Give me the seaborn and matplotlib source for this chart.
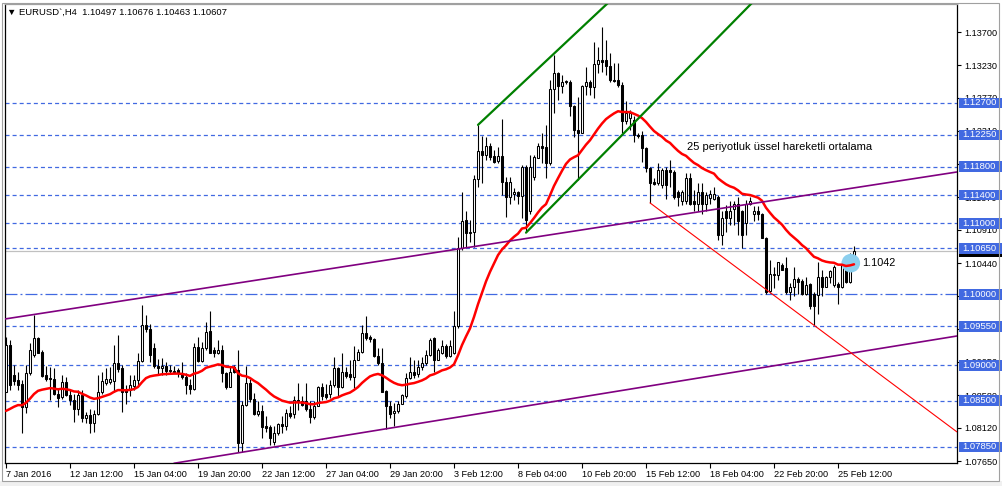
import matplotlib
matplotlib.use("Agg")
import matplotlib.pyplot as plt
from matplotlib.patches import Rectangle
import numpy as np
import pandas as pd
import seaborn as sns

# ---------------- data (EURUSD H4) ----------------
opens = [1.0863, 1.0928, 1.0886, 1.0879, 1.0873, 1.0841, 1.0889, 1.0914, 1.0938, 1.0919,
         1.0886, 1.0882, 1.0881, 1.0859, 1.0855, 1.0876, 1.0858, 1.0851, 1.0839, 1.0858,
         1.0825, 1.0830, 1.0819, 1.0831, 1.0863, 1.0875, 1.0877, 1.0878, 1.0903, 1.0896,
         1.0865, 1.0865, 1.0871, 1.0879, 1.0906, 1.0957, 1.0951, 1.0925, 1.0899, 1.0896,
         1.0899, 1.0893, 1.0892, 1.0893, 1.0889, 1.0883, 1.0872, 1.0866, 1.0926, 1.0906,
         1.0924, 1.0948, 1.0922, 1.0917, 1.0922, 1.0889, 1.0870, 1.0898, 1.0893, 1.0791,
         1.0844, 1.0875, 1.0852, 1.0831, 1.0836, 1.0814, 1.0813, 1.0792, 1.0804, 1.0817,
         1.0815, 1.0833, 1.0831, 1.0851, 1.0850, 1.0849, 1.0838, 1.0827, 1.0843, 1.0869,
         1.0860, 1.0860, 1.0872, 1.0896, 1.0870, 1.0891, 1.0888, 1.0883, 1.0908, 1.0919,
         1.0945, 1.0940, 1.0937, 1.0913, 1.0903, 1.0864, 1.0842, 1.0832, 1.0835, 1.0846,
         1.0856, 1.0882, 1.0890, 1.0887, 1.0898, 1.0903, 1.0915, 1.0938, 1.0908, 1.0918,
         1.0927, 1.0913, 1.0917, 1.0955, 1.1065, 1.1105, 1.1087, 1.1088, 1.1162, 1.1202,
         1.1197, 1.1209, 1.1195, 1.1188, 1.1195, 1.1159, 1.1138, 1.1141, 1.1145, 1.1139,
         1.1180, 1.1117, 1.1165, 1.1193, 1.1209, 1.1208, 1.1185, 1.1289, 1.1312, 1.1294,
         1.1299, 1.1299, 1.1265, 1.1232, 1.1228, 1.1294, 1.1300, 1.1293, 1.1325, 1.1331,
         1.1331, 1.1322, 1.1303, 1.1302, 1.1295, 1.1245, 1.1249, 1.1246, 1.1225, 1.1225,
         1.1206, 1.1178, 1.1158, 1.1157, 1.1154, 1.1176, 1.1175, 1.1173, 1.1145, 1.1131,
         1.1131, 1.1164, 1.1131, 1.1128, 1.1145, 1.1128, 1.1136, 1.1135, 1.1138, 1.1084,
         1.1117, 1.1107, 1.1121, 1.1127, 1.1117, 1.1101, 1.1128, 1.1114, 1.1117, 1.1113,
         1.1080, 1.1005, 1.1027, 1.1027, 1.1042, 1.1037, 1.1004, 1.1011, 1.1021, 1.1019,
         1.1001, 1.1015, 1.1000, 1.0999, 1.1025, 1.1011, 1.1025, 1.1013, 1.1015, 1.1010,
         1.1041, 1.1018, 1.10497]
highs = [1.0940, 1.0935, 1.0900, 1.0891, 1.0879, 1.0900, 1.0931, 1.0971, 1.0940, 1.0921,
         1.0899, 1.0898, 1.0896, 1.0867, 1.0886, 1.0883, 1.0865, 1.0860, 1.0865, 1.0865,
         1.0834, 1.0839, 1.0837, 1.0886, 1.0891, 1.0896, 1.0898, 1.0928, 1.0943, 1.0900,
         1.0872, 1.0886, 1.0886, 1.0917, 1.0985, 1.0971, 1.0958, 1.0931, 1.0909, 1.0910,
         1.0905, 1.0900, 1.0899, 1.0896, 1.0905, 1.0889, 1.0880, 1.0932, 1.0940, 1.0933,
         1.0961, 1.0977, 1.0926, 1.0936, 1.0928, 1.0891, 1.0898, 1.0900, 1.0922, 1.0849,
         1.0899, 1.0880, 1.0861, 1.0849, 1.0844, 1.0828, 1.0816, 1.0814, 1.0818, 1.0828,
         1.0838, 1.0842, 1.0857, 1.0875, 1.0857, 1.0875, 1.0849, 1.0849, 1.0871, 1.0875,
         1.0873, 1.0879, 1.0911, 1.0898, 1.0917, 1.0898, 1.0908, 1.0927, 1.0923, 1.0957,
         1.0969, 1.0943, 1.0938, 1.0924, 1.0925, 1.0865, 1.0849, 1.0847, 1.0849, 1.0860,
         1.0889, 1.0912, 1.0907, 1.0908, 1.0911, 1.0922, 1.0938, 1.0940, 1.0924, 1.0936,
         1.0930, 1.0936, 1.0977, 1.1081, 1.1145, 1.1118, 1.1105, 1.1168, 1.1239, 1.1223,
         1.1222, 1.1213, 1.1204, 1.1208, 1.1248, 1.1166, 1.1166, 1.1150, 1.1146, 1.1183,
         1.1183, 1.1197, 1.1197, 1.1214, 1.1228, 1.1239, 1.1302, 1.1338, 1.1314, 1.1309,
         1.1303, 1.1303, 1.1267, 1.1278, 1.1295, 1.1321, 1.1302, 1.1356, 1.1349, 1.1377,
         1.1359, 1.1340, 1.1326, 1.1326, 1.1300, 1.1272, 1.1260, 1.1251, 1.1227, 1.1230,
         1.1208, 1.1180, 1.1164, 1.1185, 1.1178, 1.1180, 1.1190, 1.1175, 1.1147, 1.1147,
         1.1171, 1.1171, 1.1147, 1.1157, 1.1157, 1.1145, 1.1147, 1.1151, 1.1140, 1.1117,
         1.1126, 1.1131, 1.1131, 1.1138, 1.1119, 1.1133, 1.1138, 1.1124, 1.1124, 1.1115,
         1.1081, 1.1049, 1.1039, 1.1046, 1.1044, 1.1052, 1.1016, 1.1039, 1.1025, 1.1021,
         1.1025, 1.1016, 1.1004, 1.1046, 1.1034, 1.1026, 1.1034, 1.1041, 1.1018, 1.1046,
         1.1049, 1.1058, 1.10676]
lows = [1.0863, 1.0865, 1.0872, 1.0865, 1.0804, 1.0832, 1.0886, 1.0912, 1.0917, 1.0884,
        1.0878, 1.0851, 1.0858, 1.0841, 1.0853, 1.0857, 1.0844, 1.0820, 1.0830, 1.0820,
        1.0818, 1.0805, 1.0806, 1.0830, 1.0860, 1.0872, 1.0874, 1.0863, 1.0891, 1.0834,
        1.0846, 1.0856, 1.0865, 1.0872, 1.0905, 1.0947, 1.0905, 1.0896, 1.0886, 1.0886,
        1.0886, 1.0889, 1.0889, 1.0883, 1.0881, 1.0859, 1.0860, 1.0865, 1.0905, 1.0905,
        1.0922, 1.0917, 1.0912, 1.0916, 1.0877, 1.0867, 1.0869, 1.0889, 1.0777, 1.0777,
        1.0842, 1.0848, 1.0830, 1.0828, 1.0797, 1.0806, 1.0788, 1.0788, 1.0802, 1.0804,
        1.0809, 1.0825, 1.0825, 1.0837, 1.0842, 1.0835, 1.0818, 1.0824, 1.0842, 1.0851,
        1.0852, 1.0854, 1.0870, 1.0856, 1.0868, 1.0882, 1.0879, 1.0868, 1.0907, 1.0917,
        1.0936, 1.0933, 1.0912, 1.0900, 1.0862, 1.0810, 1.0825, 1.0814, 1.0833, 1.0845,
        1.0854, 1.0880, 1.0882, 1.0884, 1.0894, 1.0900, 1.0913, 1.0891, 1.0907, 1.0916,
        1.0910, 1.0911, 1.0916, 1.0953, 1.1063, 1.1067, 1.1074, 1.1067, 1.1152, 1.1157,
        1.1190, 1.1190, 1.1185, 1.1185, 1.1140, 1.1109, 1.1128, 1.1133, 1.1128, 1.1107,
        1.1090, 1.1114, 1.1161, 1.1192, 1.1185, 1.1164, 1.1183, 1.1256, 1.1274, 1.1284,
        1.1296, 1.1251, 1.1222, 1.1161, 1.1227, 1.1281, 1.1281, 1.1277, 1.1312, 1.1314,
        1.1309, 1.1300, 1.1300, 1.1293, 1.1227, 1.1240, 1.1232, 1.1215, 1.1220, 1.1187,
        1.1173, 1.1129, 1.1154, 1.1154, 1.1150, 1.1135, 1.1152, 1.1135, 1.1124, 1.1126,
        1.1128, 1.1126, 1.1117, 1.1117, 1.1114, 1.1117, 1.1128, 1.1133, 1.1077, 1.1070,
        1.1088, 1.1098, 1.1098, 1.1084, 1.1066, 1.1084, 1.1126, 1.1103, 1.1105, 1.1079,
        1.1001, 1.1002, 1.1009, 1.1020, 1.1034, 1.1001, 1.0992, 1.0997, 1.1001, 1.0999,
        1.0999, 1.0979, 1.0957, 1.0973, 1.0997, 1.1010, 1.1016, 1.1011, 1.0987, 1.1009,
        1.1016, 1.1016, 1.10463]
closes = [1.0928, 1.0872, 1.0878, 1.0872, 1.0841, 1.0889, 1.0922, 1.0938, 1.0918, 1.0885,
          1.0880, 1.0881, 1.0859, 1.0854, 1.0877, 1.0858, 1.0851, 1.0839, 1.0858, 1.0825,
          1.0830, 1.0819, 1.0831, 1.0863, 1.0878, 1.0881, 1.0881, 1.0903, 1.0895, 1.0863,
          1.0863, 1.0872, 1.0879, 1.0906, 1.0957, 1.0951, 1.0914, 1.0899, 1.0896, 1.0899,
          1.0892, 1.0892, 1.0891, 1.0889, 1.0883, 1.0872, 1.0866, 1.0926, 1.0906, 1.0924,
          1.0947, 1.0918, 1.0917, 1.0922, 1.0889, 1.0870, 1.0891, 1.0891, 1.0791, 1.0844,
          1.0875, 1.0852, 1.0831, 1.0836, 1.0813, 1.0812, 1.0798, 1.0804, 1.0817, 1.0815,
          1.0832, 1.0829, 1.0851, 1.0849, 1.0844, 1.0838, 1.0827, 1.0843, 1.0869, 1.0856,
          1.0855, 1.0872, 1.0896, 1.0870, 1.0891, 1.0885, 1.0884, 1.0908, 1.0919, 1.0945,
          1.0938, 1.0937, 1.0913, 1.0903, 1.0863, 1.0842, 1.0831, 1.0836, 1.0846, 1.0858,
          1.0882, 1.0890, 1.0886, 1.0898, 1.0903, 1.0915, 1.0936, 1.0908, 1.0921, 1.0927,
          1.0913, 1.0927, 1.0955, 1.1065, 1.1103, 1.1086, 1.1088, 1.1162, 1.1202, 1.1197,
          1.1209, 1.1194, 1.1187, 1.1195, 1.1159, 1.1138, 1.1159, 1.1144, 1.1139, 1.1180,
          1.1105, 1.1180, 1.1194, 1.1209, 1.1206, 1.1185, 1.1289, 1.1312, 1.1294, 1.1300,
          1.1301, 1.1265, 1.1232, 1.1228, 1.1294, 1.1300, 1.1293, 1.1325, 1.1330, 1.1328,
          1.1322, 1.1302, 1.1301, 1.1295, 1.1245, 1.1256, 1.1256, 1.1225, 1.1223, 1.1206,
          1.1178, 1.1157, 1.1156, 1.1175, 1.1176, 1.1154, 1.1173, 1.1138, 1.1138, 1.1145,
          1.1164, 1.1128, 1.1128, 1.1145, 1.1128, 1.1140, 1.1142, 1.1142, 1.1084, 1.1107,
          1.1107, 1.1117, 1.1127, 1.1103, 1.1084, 1.1128, 1.1131, 1.1117, 1.1114, 1.1080,
          1.1004, 1.1029, 1.1029, 1.1045, 1.1035, 1.1004, 1.1011, 1.1021, 1.1018, 1.1001,
          1.1013, 1.0983, 1.0983, 1.1025, 1.1011, 1.1025, 1.1033, 1.1039, 1.1010, 1.1041,
          1.1018, 1.1051, 1.10607]
ema_period = 25
ema_seed = 1.0828          # value of the moving average just before the first visible bar

date_labels = ["7 Jan 2016", "12 Jan 12:00", "15 Jan 04:00", "19 Jan 20:00", "22 Jan 12:00",
               "27 Jan 04:00", "29 Jan 20:00", "3 Feb 12:00", "8 Feb 04:00", "10 Feb 20:00",
               "15 Feb 12:00", "18 Feb 04:00", "22 Feb 20:00", "25 Feb 12:00"]
bars_per_label = 16

scale_ticks = [1.13700, 1.13230, 1.12770, 1.12310, 1.11840, 1.11370, 1.10910, 1.10440,
               1.09980, 1.09510, 1.09050, 1.08580, 1.08120, 1.07650]
hidden_scale_ticks = [1.11840, 1.09980, 1.09510]   # fully covered by level boxes
h_levels = [1.12700, 1.12250, 1.11800, 1.11400, 1.11000, 1.10650, 1.10000, 1.09550,
            1.09000, 1.08500, 1.07850]
dashdot_level = 1.10000
bid_price = 1.10607

# trend lines: (bar index, price) anchors
purple_upper = ([-0.25, 237.75], [1.09653, 1.11726])
purple_lower = ([42.0, 237.75], [1.07618, 1.09413])
green_upper = ([118.0, 150.5], [1.1239, 1.1411])
green_lower = ([130.0, 186.5], [1.1087, 1.1411])
red_down = ([161.0, 237.75], [1.1129, 1.0806])

title_text = "\u25BC EURUSD`,H4  1.10497 1.10676 1.10463 1.10607"
ema_note = "25 periyotluk üssel hareketli ortalama"
ema_note_pos = (170.25, 1.12078)
cursor_pos = (211.2, 1.10440)
cursor_label = "1.1042"

# ---------------- style ----------------
sns.set_theme(style="white")
plt.rcParams["font.family"] = ["Liberation Sans", "DejaVu Sans"]
plt.rcParams["lines.scale_dashes"] = False

W, H = 1002, 486
fig = plt.figure(figsize=(W / 100, H / 100), dpi=100)
fig.patch.set_facecolor("white")
L, R, T, B = 5, 957, 4, 463
ax = fig.add_axes([L / W, 1 - B / H, (R - L) / W, (B - T) / H])
ax.set_facecolor("white")

px_per_unit = 7091.0
ax.set_xlim(-0.25, -0.25 + (R - L) / 4.0)
ax.set_ylim(1.137 - (B - 32) / px_per_unit, 1.137 + (32 - T) / px_per_unit)

o = np.array(opens); hi = np.array(highs); lo = np.array(lows); c = np.array(closes)
n = len(c)
idx = np.arange(n)

BLUE = "#4169E1"
# horizontal levels
for lev in h_levels:
    if lev == dashdot_level:
        ax.axhline(lev, color=BLUE, lw=0.9, ls=(0, (8.6, 2.2, 1.4, 2.2)), zorder=1)
    else:
        ax.axhline(lev, color=BLUE, lw=0.9, ls=(0, (2.9, 2.2)), zorder=1)
ax.axhline(bid_price, color="#C0C0C0", lw=0.9, zorder=1)

# candles
ax.vlines(idx, lo, hi, color="black", lw=0.8, zorder=3)
up = c >= o
bottom = np.minimum(o, c)
height = np.maximum(np.abs(c - o), 0.00002)
ax.bar(idx[up], height[up], bottom=bottom[up], width=0.5, color="white",
       edgecolor="black", linewidth=0.75, zorder=4)
ax.bar(idx[~up], height[~up], bottom=bottom[~up], width=0.5, color="black",
       edgecolor="black", linewidth=0.75, zorder=4)

# cursor highlight
ax.scatter([cursor_pos[0]], [cursor_pos[1]], s=180, color="#8CCFEE", edgecolors="none", zorder=5)

# EMA
ema = pd.Series([ema_seed] + list(closes)).ewm(span=ema_period, adjust=False).mean().to_numpy()[1:]
sns.lineplot(x=idx, y=ema, color="#FF0000", lw=1.8, ax=ax, zorder=6, legend=False)

# trend lines
ax.plot(*purple_upper, color="#800080", lw=1.2, zorder=7)
ax.plot(*purple_lower, color="#800080", lw=1.2, zorder=7)
ax.plot(*green_upper, color="#008000", lw=1.6, zorder=7)
ax.plot(*green_lower, color="#008000", lw=1.6, zorder=7)
ax.plot(*red_down, color="#FF0000", lw=0.8, zorder=7)

ax.text(*ema_note_pos, ema_note, fontsize=8, va="center", ha="left", color="black", zorder=8)
ax.text(cursor_pos[0] + 2.8, cursor_pos[1] - 0.00002, cursor_label, fontsize=7.8,
        va="center", ha="left", color="black", zorder=8)

# axes / ticks
for s in ["left", "right", "bottom"]:
    ax.spines[s].set_color("black"); ax.spines[s].set_linewidth(0.9)
ax.spines["top"].set_color("#A0A0A0"); ax.spines["top"].set_linewidth(0.9)

ax.set_xticks(idx[::bars_per_label][:len(date_labels)])
ax.set_xticklabels(date_labels)
for lbl in ax.get_xticklabels():
    lbl.set_ha("left")
ax.tick_params(axis="x", bottom=True, direction="out", length=3.5, width=0.8, color="black",
               pad=1.5, labelsize=6.6, labelcolor="black")

ax.yaxis.tick_right()
ax.set_yticks(scale_ticks)
ax.set_yticklabels(["" if v in hidden_scale_ticks else f"{v:.5f}" for v in scale_ticks])
ax.tick_params(axis="y", right=True, left=False, direction="out", length=3, width=0.8,
               color="black", pad=2.5, labelsize=6.6, labelcolor="black")

ytr = ax.get_yaxis_transform()
box_h = 10.5 / px_per_unit
bx0 = 1 + 1.5 / (R - L)
bw = 43.5 / (R - L)
# current bid label (black)
ax.add_patch(Rectangle((bx0, bid_price - box_h / 2), bw, box_h, transform=ytr,
                       fc="black", ec="none", clip_on=False, zorder=9))
ax.text(1 + 5.5 / (R - L), bid_price, f"{bid_price:.5f}", transform=ytr, color="white",
        fontsize=6.8, va="center", ha="left", clip_on=False, zorder=9.5)
for lev in h_levels:
    ax.add_patch(Rectangle((bx0, lev - box_h / 2), bw, box_h, transform=ytr,
                           fc=BLUE, ec="none", clip_on=False, zorder=10))
    ax.text(1 + 5.5 / (R - L), lev, f"{lev:.5f}", transform=ytr, color="white",
            fontsize=6.8, va="center", ha="left", clip_on=False, zorder=11)

ax.set_xlabel(""); ax.set_ylabel("")

# title
fig.text(7 / W, 1 - 12.5 / H, title_text, fontsize=6.8, va="center", ha="left", color="black")

# window frame
fig.add_artist(Rectangle((0, 0), 1, 5 / H, transform=fig.transFigure, fc="#F0F0F0",
                         ec="none", zorder=0))
fig.add_artist(Rectangle((2 / W, 5 / H), 997 / W, 478 / H, transform=fig.transFigure,
                         fill=False, ec="#A0A0A0", lw=0.8))

fig.savefig("out.png", dpi=100, facecolor="white")
